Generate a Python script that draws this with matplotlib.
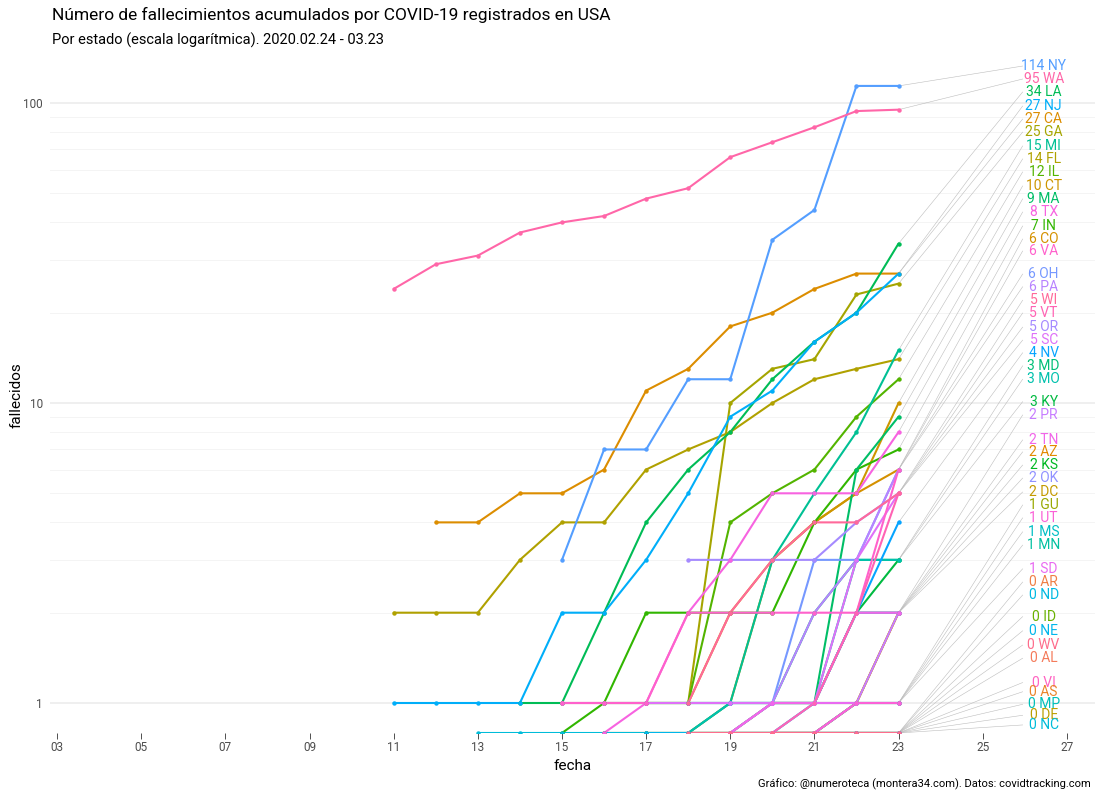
import numpy as np
import matplotlib

matplotlib.use("Agg")

from matplotlib import pyplot as plt

N = np.nan

# dias de marzo 2020 con datos
days = list(range(11, 24))

# fallecidos acumulados por estado (dias 11..23)
NY = [N, N, N, N, 3, 7, 7, 12, 12, 35, 44, 114, 114]
WA = [24, 29, 31, 37, 40, 42, 48, 52, 66, 74, 83, 94, 95]
LA = [N, N, N, 1, 1, 2, 4, 6, 8, 12, 16, 20, 34]
NJ = [1, 1, 1, 1, 2, 2, 3, 5, 9, 11, 16, 20, 27]
CA = [N, 4, 4, 5, 5, 6, 11, 13, 18, 20, 24, 27, 27]
GA = [N, N, N, N, 1, 1, 1, 1, 10, 13, 14, 23, 25]
MI = [N, N, N, N, N, N, N, 0, 1, 3, 5, 8, 15]
FL = [2, 2, 2, 3, 4, 4, 6, 7, 8, 10, 12, 13, 14]
IL = [N, N, N, N, N, N, 1, 1, 4, 5, 6, 9, 12]
CT = [N, N, N, N, N, N, N, 0, 1, 3, 4, 5, 10]
MA = [N, N, N, N, N, N, N, N, N, 1, 1, 6, 9]
TX = [N, N, N, N, N, 0, 1, 2, 3, 5, 5, 5, 8]
IN = [N, N, N, N, 0, 1, 2, 2, 2, 2, 4, 6, 7]
CO = [N, N, N, N, N, N, N, 1, 2, 3, 4, 5, 6]
VA = [N, N, N, N, 1, 1, 1, 2, 2, 2, 2, 2, 6]
OH = [N, N, N, N, N, N, N, N, 0, 1, 3, 3, 6]
PA = [N, N, N, N, N, N, N, N, 1, 1, 2, 3, 6]
WI = [N, N, N, N, N, N, N, 1, 2, 3, 4, 4, 5]
VT = [N, N, N, N, N, N, N, N, N, 0, 1, 2, 5]
OR = [N, N, N, N, N, N, N, 3, 3, 3, 3, 4, 5]
SC = [N, N, N, N, 1, 1, 1, 1, 1, 1, 1, 3, 5]
NV = [N, N, N, N, N, N, N, 1, 1, 1, 1, 2, 4]
MD = [N, N, N, N, N, N, N, N, 0, 1, 2, 3, 3]
MO = [N, N, N, N, N, N, N, 0, 1, 1, 1, 3, 3]
KY = [N, N, N, N, N, 1, 1, 1, 1, 1, 1, 2, 3]
PR = [N, N, N, N, N, N, N, N, N, 0, 0, 1, 2]
TN = [N, N, N, N, N, N, N, N, 0, 1, 1, 2, 2]
AZ = [N, N, N, N, N, N, N, N, 0, 1, 1, 1, 2]
KS = [N, N, N, N, N, N, 1, 1, 1, 1, 1, 2, 2]
OK = [N, N, N, N, N, N, N, N, N, 0, 1, 2, 2]
DC = [N, N, N, N, N, N, N, 0, 0, 0, 0, 1, 2]
GU = [N, N, N, N, N, N, N, N, N, 0, 0, 1, 1]
UT = [N, N, N, N, N, N, N, N, N, 0, 0, 1, 1]
MS = [N, N, N, N, N, N, N, N, 0, 0, 1, 1, 1]
MN = [N, N, N, N, N, N, N, N, N, 0, 0, 1, 1]
SD = [N, N, N, N, N, N, N, N, 0, 1, 1, 1, 1]
AR = [N, N, N, N, N, N, N, 0, 0, 0, 0, 0, 0]
ND = [N, N, N, N, N, N, N, 0, 0, 0, 0, 0, 0]
ID = [N, N, N, N, N, N, 0, 0, 0, 0, 0, 0, 0]
NE = [N, N, N, N, N, N, 0, 0, 0, 0, 0, 0, 0]
WV = [N, N, N, N, N, N, N, 0, 0, 0, 0, 0, 0]
AL = [N, N, N, N, N, 0, 0, 0, 0, 0, 0, 0, 0]
VI = [N, N, N, N, N, N, N, N, 0, 0, 0, 0, 0]
AS = [N, N, N, N, N, N, N, N, N, 0, 0, 0, 0]
MP = [N, N, N, N, N, N, N, N, N, N, 0, 0, 0]
DE = [N, N, N, N, N, 0, 0, 0, 0, 0, 0, 0, 0]
NC = [N, N, 0, 0, 0, 0, 0, 0, 0, 0, 0, 0, 0]

series = {
    "NY": NY, "WA": WA, "LA": LA, "NJ": NJ, "CA": CA, "GA": GA, "MI": MI,
    "FL": FL, "IL": IL, "CT": CT, "MA": MA, "TX": TX, "IN": IN, "CO": CO,
    "VA": VA, "OH": OH, "PA": PA, "WI": WI, "VT": VT, "OR": OR, "SC": SC,
    "NV": NV, "MD": MD, "MO": MO, "KY": KY, "PR": PR, "TN": TN, "AZ": AZ,
    "KS": KS, "OK": OK, "DC": DC, "GU": GU, "UT": UT, "MS": MS, "MN": MN,
    "SD": SD, "AR": AR, "ND": ND, "ID": ID, "NE": NE, "WV": WV, "AL": AL,
    "VI": VI, "AS": AS, "MP": MP, "DE": DE, "NC": NC,
}

# todos los estados/territorios (para la paleta, orden alfabetico)
all_states = ["AK", "AL", "AR", "AS", "AZ", "CA", "CO", "CT", "DC", "DE", "FL",
              "GA", "GU", "HI", "IA", "ID", "IL", "IN", "KS", "KY", "LA", "MA",
              "MD", "ME", "MI", "MN", "MO", "MP", "MS", "MT", "NC", "ND", "NE",
              "NH", "NJ", "NM", "NV", "NY", "OH", "OK", "OR", "PA", "PR", "RI",
              "SC", "SD", "TN", "TX", "UT", "VA", "VI", "VT", "WA", "WI", "WV",
              "WY"]

# etiquetas de la derecha (orden de arriba a abajo) y su altura tras el "repel"
label_states = ["NY", "WA", "LA", "NJ", "CA", "GA", "MI", "FL", "IL", "CT", "MA",
                "TX", "IN", "CO", "VA", "OH", "PA", "WI", "VT", "OR", "SC", "NV",
                "MD", "MO", "KY", "PR", "TN", "AZ", "KS", "OK", "DC", "GU", "UT",
                "MS", "MN", "SD", "AR", "ND", "ID", "NE", "WV", "AL", "VI", "AS",
                "MP", "DE", "NC"]
label_y = [132.8, 120.2, 108.8, 97.7, 88.4, 80.0, 71.9, 65.1, 58.9, 52.9, 47.9,
           43.3, 38.9, 35.2, 32.1, 26.9, 24.4, 22.0, 19.95, 17.9, 16.2, 14.7,
           13.3, 12.0, 10.1, 9.12, 7.53, 6.87, 6.21, 5.62, 5.05, 4.57, 4.14,
           3.72, 3.36, 2.80, 2.53, 2.29, 1.94, 1.74, 1.56, 1.41, 1.17, 1.09,
           0.99, 0.91, 0.845]

x_ticks = list(range(3, 28, 2))


def hcl_color(h, c=100, l=65):
    # hcl -> sRGB (como scales::hue_pal de ggplot)
    h = np.radians(h)
    u, v = c * np.cos(h), c * np.sin(h)
    un, vn = 0.19784, 0.46834
    Y = ((l + 16) / 116) ** 3
    up = u / (13 * l) + un
    vp = v / (13 * l) + vn
    X = Y * 9 * up / (4 * vp)
    Z = Y * (12 - 3 * up - 20 * vp) / (4 * vp)
    m = np.array([[3.2404542, -1.5371385, -0.4985314],
                  [-0.9692660, 1.8760108, 0.0415560],
                  [0.0556434, -0.2040259, 1.0572252]])
    rgb = m @ np.array([X, Y, Z])
    out = []
    for ch in rgb:
        ch = 12.92 * ch if ch <= 0.0031308 else 1.055 * ch ** (1 / 2.4) - 0.055
        out.append(min(max(ch, 0), 1))
    return tuple(out)


n = len(all_states)
palette = {s: hcl_color(15 + 360 * i / n) for i, s in enumerate(all_states)}

plt.rcParams["font.family"] = ["Roboto", "DejaVu Sans"]

fig = plt.figure(figsize=(11, 8), dpi=100)
ax = fig.add_axes([50 / 1100, 67 / 800, 1045 / 1100, 675 / 800])

y_min = 10 ** -0.1
y_max = 10 ** 2.15
ax.set_yscale("log")
ax.set_ylim(y_min, y_max)
ax.set_xlim(2.83, 27.67)

# rejilla (mayor y menor) a mano
for v in [1, 10, 100]:
    ax.axhline(v, color="#ebebeb", lw=1.1, zorder=0)
for dec in [1, 10]:
    for k in range(2, 10):
        ax.axhline(k * dec, color="#f2f2f2", lw=0.6, zorder=0)


def to_plot(vals):
    # los ceros van al borde inferior (log(0) = -Inf en ggplot)
    vals = np.array(vals, dtype=float)
    return np.where(vals > 0, vals, np.where(np.isnan(vals), np.nan, y_min))


ordered = sorted(series.keys())
for s in ordered:
    ax.plot(days, to_plot(series[s]), color=palette[s], lw=1.5, zorder=2,
            solid_capstyle="round")
for s in ordered:
    ax.plot(days, to_plot(series[s]), "o", color=palette[s], ms=3.2, mew=0,
            zorder=3)

# etiquetas con linea guia
for s, ly in zip(label_states, label_y):
    end = series[s][-1]
    end_y = end if end > 0 else y_min
    ax.plot([days[-1], 25.95], [end_y, ly], color="#bdbdbd", lw=0.4,
            zorder=1, clip_on=False)
    ax.text(26.45, ly, f"{end} {s}", color=palette[s], fontsize=10,
            ha="center", va="center", zorder=4)

ax.set_xticks(x_ticks)
ax.set_xticklabels([f"{d:02d}" for d in x_ticks])
ax.set_yticks([1, 10, 100])
ax.set_yticklabels(["1", "10", "100"])
ax.yaxis.set_minor_locator(matplotlib.ticker.NullLocator())
ax.tick_params(axis="x", length=4, width=0.6, color="#333333",
               labelsize=8.5, labelcolor="#4d4d4d", pad=2)
ax.tick_params(axis="y", length=0, labelsize=8.5, labelcolor="#4d4d4d", pad=5)
for sp in ax.spines.values():
    sp.set_visible(False)

ax.set_xlabel("fecha", fontsize=11, labelpad=3)
ax.set_ylabel("fallecidos", fontsize=11, labelpad=0)

fig.text(52 / 1100, 1 - 15 / 800, "Número de fallecimientos acumulados por COVID-19 registrados en USA",
         fontsize=12.5, va="center", ha="left")
fig.text(52 / 1100, 1 - 40 / 800, "Por estado (escala logarítmica). 2020.02.24 - 03.23",
         fontsize=10.5, va="center", ha="left")
fig.text(1091 / 1100, 1 - 784 / 800,
         "Gráfico: @numeroteca (montera34.com). Datos: covidtracking.com",
         fontsize=8, va="center", ha="right")

fig.savefig("out.png", dpi=100)
